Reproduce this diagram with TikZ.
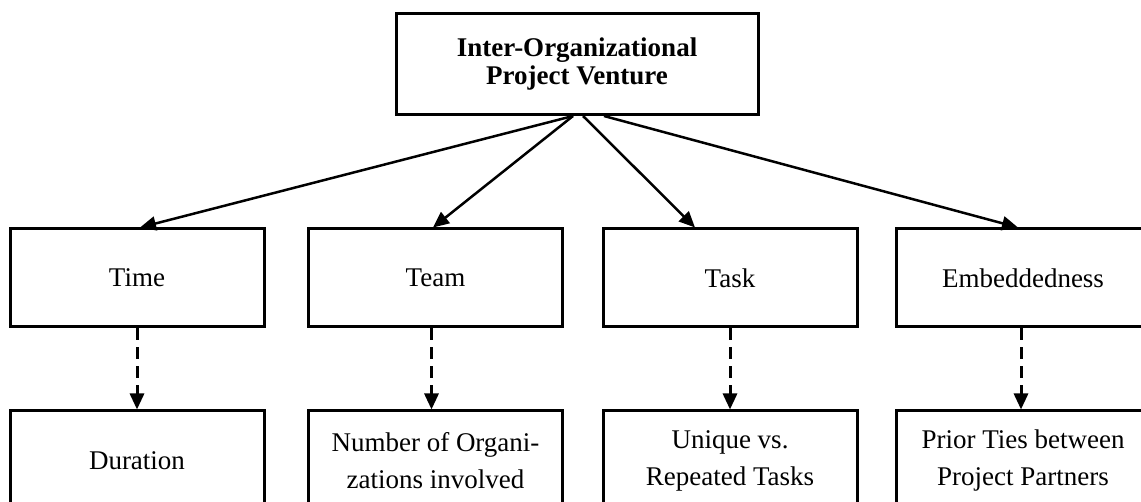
\documentclass[tikz,border=0pt]{standalone}
\usepackage{fontspec}
\setmainfont{Liberation Serif}
\usetikzlibrary{arrows.meta}
\tikzset{
  box/.style={draw, line width=3pt, minimum width=254pt, minimum height=98pt,
    inner sep=0pt, align=center, font=\fontsize{27}{33}\selectfont},
  topbox/.style={box, minimum width=362pt, minimum height=101pt,
    font=\fontsize{27}{28}\selectfont\bfseries},
  lowbox/.style={box, minimum height=100pt, font=\fontsize{27}{37}\selectfont},
  solidarrow/.style={line width=2.5pt, -{Triangle[length=16pt,width=14pt]}},
  dasharrow/.style={line width=3pt, dash pattern=on 12pt off 7pt,
    -{Triangle[length=16pt,width=14pt]}}
}
\begin{document}
\begin{tikzpicture}[x=1pt,y=-1pt]
\useasboundingbox (0,0) rectangle (1141,502);
\clip (0,0) rectangle (1141,502);
\fill[white] (0,0) rectangle (1141,502);
\node[topbox] (top) at (577,64) {Inter-Organizational\\Project Venture};
\node[box] (time) at (137,278) {Time};
\node[box] (team) at (435.5,278) {Team};
\node[box] (task) at (730,278) {Task};
\node[box] (emb) at (1023,278) {Embeddedness};
\node[lowbox] (dur) at (137,461) {Duration};
\node[lowbox] (num) at (435.5,461) {Number of Organi-\\zations involved};
\node[lowbox] (uni) at (730,461) {Unique vs.\\Repeated Tasks};
\node[lowbox] (pri) at (1023,461) {Prior Ties between\\Project Partners};
\draw[solidarrow] ([xshift=-4pt]top.south) -- ([xshift=3pt]time.north);
\draw[solidarrow] ([xshift=-4pt]top.south) -- ([xshift=-2.5pt]team.north);
\draw[solidarrow] ([xshift=6pt]top.south) -- ([xshift=-35pt]task.north);
\draw[solidarrow] ([xshift=27pt]top.south) -- ([xshift=-5pt]emb.north);
\draw[dasharrow] (time.south) -- (dur.north);
\draw[dasharrow] ([xshift=-4pt]team.south) -- ([xshift=-4pt]num.north);
\draw[dasharrow] (task.south) -- (uni.north);
\draw[dasharrow] ([xshift=-2pt]emb.south) -- ([xshift=-2pt]pri.north);
\end{tikzpicture}
\end{document}
